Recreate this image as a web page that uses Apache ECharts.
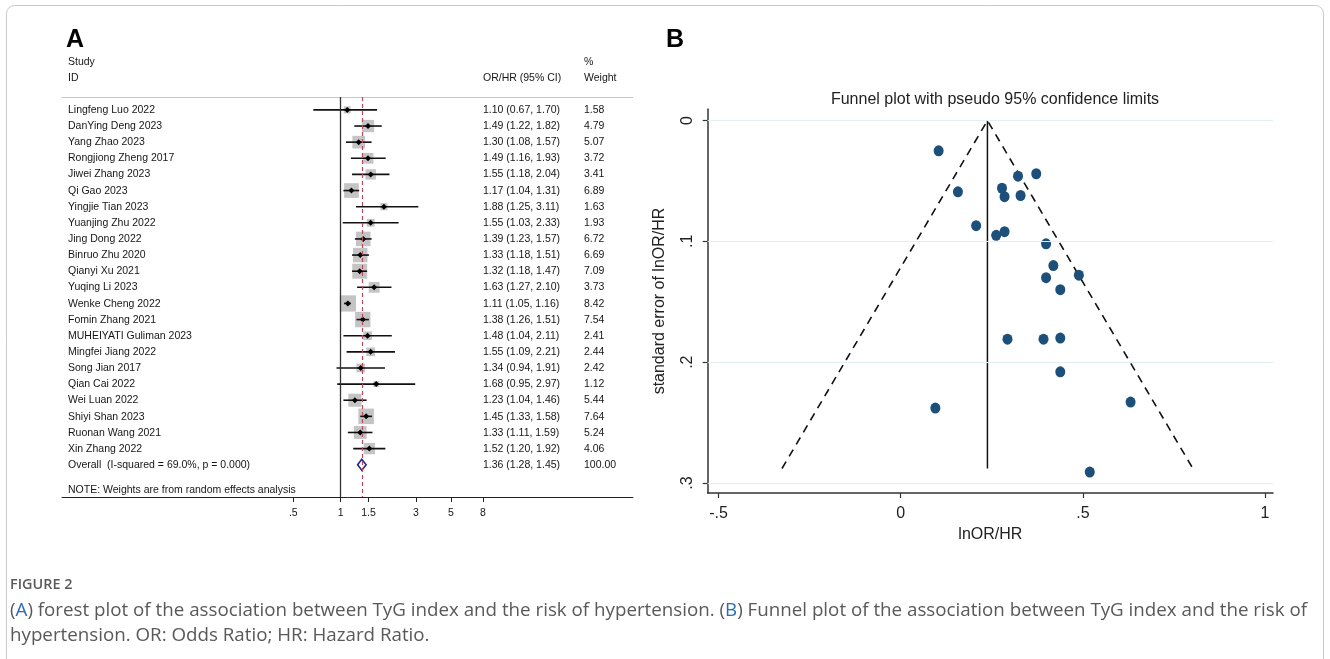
<!DOCTYPE html>
<html>
<head>
<meta charset="utf-8">
<script src="https://cdn.jsdelivr.net/npm/echarts@6/dist/echarts.min.js"></script>
<style>
  html, body { margin: 0; padding: 0; background: #fff; }
  #main { width: 1330px; height: 659px; }
</style>
</head>
<body>
<div id="main"></div>
<script>
// forest plot (A)
var studies = ['Lingfeng Luo 2022', 'DanYing Deng 2023', 'Yang Zhao 2023', 'Rongjiong Zheng 2017',
  'Jiwei Zhang 2023', 'Qi Gao 2023', 'Yingjie Tian 2023', 'Yuanjing Zhu 2022', 'Jing Dong 2022',
  'Binruo Zhu 2020', 'Qianyi Xu 2021', 'Yuqing Li 2023', 'Wenke Cheng 2022', 'Fomin Zhang 2021',
  'MUHEIYATI Guliman 2023', 'Mingfei Jiang 2022', 'Song Jian 2017', 'Qian Cai 2022', 'Wei Luan 2022',
  'Shiyi Shan 2023', 'Ruonan Wang 2021', 'Xin Zhang 2022'];
var orVals = [1.10, 1.49, 1.30, 1.49, 1.55, 1.17, 1.88, 1.55, 1.39, 1.33, 1.32, 1.63, 1.11, 1.38, 1.48, 1.55, 1.34, 1.68, 1.23, 1.45, 1.33, 1.52];
var lowVals = [0.67, 1.22, 1.08, 1.16, 1.18, 1.04, 1.25, 1.03, 1.23, 1.18, 1.18, 1.27, 1.05, 1.26, 1.04, 1.09, 0.94, 0.95, 1.04, 1.33, 1.11, 1.20];
var highVals = [1.70, 1.82, 1.57, 1.93, 2.04, 1.31, 3.11, 2.33, 1.57, 1.51, 1.47, 2.10, 1.16, 1.51, 2.11, 2.21, 1.91, 2.97, 1.46, 1.58, 1.59, 1.92];
var weights = [1.58, 4.79, 5.07, 3.72, 3.41, 6.89, 1.63, 1.93, 6.72, 6.69, 7.09, 3.73, 8.42, 7.54, 2.41, 2.44, 2.42, 1.12, 5.44, 7.64, 5.24, 4.06];
var overallLabel = 'Overall  (I-squared = 69.0%, p = 0.000)';
var overallOr = 1.36, overallLow = 1.28, overallHigh = 1.45, overallWeight = 100.00;
var forestTicks = [0.5, 1, 1.5, 3, 5, 8];
var forestTickLabels = ['.5', '1', '1.5', '3', '5', '8'];

// funnel plot (B)
var lnEst = [0.095, 0.399, 0.262, 0.399, 0.438, 0.157, 0.631, 0.438, 0.329, 0.285, 0.278, 0.489, 0.104, 0.322, 0.392, 0.438, 0.293, 0.519, 0.207, 0.372, 0.285, 0.419];
var seVals = [0.238, 0.102, 0.095, 0.130, 0.140, 0.059, 0.233, 0.208, 0.062, 0.063, 0.056, 0.128, 0.025, 0.046, 0.181, 0.180, 0.181, 0.291, 0.087, 0.044, 0.092, 0.120];
var funnelCenter = 0.238, funnelSeMax = 0.288, funnelLow = -0.326, funnelHigh = 0.802;
var funnelXTicks = [-0.5, 0, 0.5, 1];
var funnelXLabels = ['-.5', '0', '.5', '1'];
var funnelYTicks = [0, 0.1, 0.2, 0.3];
var funnelYLabels = ['0', '.1', '.2', '.3'];

var FONT = '"Liberation Sans", Arial, sans-serif';
var CAP_FONT = '"Open Sans", sans-serif';
var TXT = '#151515';

var rowNames = studies.concat([overallLabel]);
var ciText = orVals.map(function (v, i) {
  return v.toFixed(2) + ' (' + lowVals[i].toFixed(2) + ', ' + highVals[i].toFixed(2) + ')';
}).concat([overallOr.toFixed(2) + ' (' + overallLow.toFixed(2) + ', ' + overallHigh.toFixed(2) + ')']);
var weightText = weights.map(function (w) { return w.toFixed(2); }).concat([overallWeight.toFixed(2)]);

// x of the forest plot is on the log scale
var forestData = orVals.map(function (v, i) {
  return [Math.log(v), Math.log(lowVals[i]), Math.log(highVals[i]), weights[i], i, 0];
});
forestData.push([Math.log(overallOr), Math.log(overallLow), Math.log(overallHigh), overallWeight, studies.length, 1]);

function pick(vals, labels, v, useLog) {
  for (var i = 0; i < vals.length; i++) {
    var t = useLog ? Math.log(vals[i]) : vals[i];
    if (Math.abs(t - v) < 1e-6) return labels[i];
  }
  return '';
}

function renderForest(params, api) {
  var row = api.value(4);
  var c = api.coord([api.value(0), row]);
  var l = api.coord([api.value(1), row]);
  var h = api.coord([api.value(2), row]);
  if (api.value(5) === 1) {
    return {
      type: 'polygon',
      shape: { points: [[l[0], c[1]], [c[0], c[1] - 5.5], [h[0], c[1]], [c[0], c[1] + 5.5]] },
      style: { fill: '#fff', stroke: '#1d2a86', lineWidth: 1.6 }
    };
  }
  var s = 5.6 * Math.sqrt(api.value(3));
  return {
    type: 'group',
    children: [
      { type: 'rect', shape: { x: c[0] - s / 2, y: c[1] - s / 2, width: s, height: s }, style: { fill: '#c4c4c4' } },
      { type: 'line', shape: { x1: l[0], y1: c[1], x2: h[0], y2: c[1] }, style: { stroke: '#111', lineWidth: 1.6 } },
      { type: 'polygon', shape: { points: [[c[0] - 3, c[1]], [c[0], c[1] - 3], [c[0] + 3, c[1]], [c[0], c[1] + 3]] }, style: { fill: '#000' } }
    ]
  };
}

var chart = echarts.init(document.getElementById('main'));
var option = {
  backgroundColor: '#fff',
  animation: false,
  textStyle: { fontFamily: FONT },
  title: {
    text: 'Funnel plot with pseudo 95% confidence limits',
    left: 990, top: 87, textAlign: 'center',
    textStyle: { fontFamily: FONT, fontSize: 16, fontWeight: 'normal', color: '#222' }
  },
  grid: [
    { left: 62, right: 697, top: 97, bottom: 162 },
    { left: 62, right: 697, top: 101.9, bottom: 185.9 },
    { left: 707.7, right: 57, top: 109, bottom: 166 }
  ],
  xAxis: [
    {
      gridIndex: 0, type: 'value', min: -4.075, max: 4.273, position: 'bottom',
      axisLine: { onZero: false, lineStyle: { color: '#222', width: 1 } },
      axisTick: { inside: false, length: 5, lineStyle: { color: '#222' }, customValues: forestTicks.map(Math.log) },
      axisLabel: {
        customValues: forestTicks.map(Math.log), margin: 11, fontSize: 10.5, color: TXT,
        formatter: function (v) { return pick(forestTicks, forestTickLabels, v, true); }
      },
      splitLine: { show: false }
    },
    {
      gridIndex: 0, type: 'value', min: -4.075, max: 4.273, position: 'top',
      axisLine: { onZero: false, lineStyle: { color: '#c8c8c8', width: 1 } },
      axisTick: { show: false }, axisLabel: { show: false }, splitLine: { show: false }
    },
    { gridIndex: 1, type: 'value', show: false },
    {
      gridIndex: 2, type: 'value', min: -0.53, max: 1.022, position: 'bottom',
      axisLine: { onZero: false, lineStyle: { color: '#333', width: 1.5 } },
      axisTick: { inside: false, length: 5, lineStyle: { color: '#333', width: 1.2 }, customValues: funnelXTicks },
      axisLabel: {
        customValues: funnelXTicks, margin: 13, fontSize: 16, color: '#222',
        formatter: function (v) { return pick(funnelXTicks, funnelXLabels, v, false); }
      },
      splitLine: { show: false },
      name: 'lnOR/HR', nameLocation: 'middle', nameGap: 31,
      nameTextStyle: { fontSize: 16, color: '#222', fontFamily: FONT }
    }
  ],
  yAxis: [
    { gridIndex: 0, type: 'value', inverse: true, min: -0.8, max: 24, show: false },
    {
      gridIndex: 1, type: 'category', inverse: true, data: rowNames, position: 'left',
      axisLine: { show: false }, axisTick: { show: false },
      axisLabel: { inside: true, margin: 6, fontSize: 10.5, color: TXT }
    },
    {
      gridIndex: 1, type: 'category', inverse: true, data: ciText, position: 'right', offset: -150,
      axisLine: { show: false }, axisTick: { show: false },
      axisLabel: { margin: 0, fontSize: 10.5, color: TXT }
    },
    {
      gridIndex: 1, type: 'category', inverse: true, data: weightText, position: 'right', offset: -49,
      axisLine: { show: false }, axisTick: { show: false },
      axisLabel: { margin: 0, fontSize: 10.5, color: TXT }
    },
    {
      gridIndex: 2, type: 'value', inverse: true, min: -0.0096, max: 0.3083, position: 'left',
      axisLine: { onZero: false, lineStyle: { color: '#333', width: 1.5 } },
      axisTick: { inside: false, length: 5, lineStyle: { color: '#333', width: 1.2 }, customValues: funnelYTicks },
      axisLabel: {
        customValues: funnelYTicks, margin: 12, fontSize: 16, color: '#222', rotate: 90,
        formatter: function (v) { return pick(funnelYTicks, funnelYLabels, v, false); }
      },
      splitLine: { show: false },
      name: 'standard error of lnOR/HR', nameLocation: 'middle', nameGap: 40, nameRotate: 90,
      nameTextStyle: { fontSize: 16, color: '#222', fontFamily: FONT }
    }
  ],
  series: [
    {
      type: 'custom', xAxisIndex: 0, yAxisIndex: 0, renderItem: renderForest, data: forestData, z: 3
    },
    {
      type: 'line', xAxisIndex: 0, yAxisIndex: 0, data: [], silent: true,
      markLine: {
        symbol: 'none', silent: true, label: { show: false },
        data: [
          { xAxis: 0, lineStyle: { color: '#333', width: 1.3, type: 'solid' } },
          { xAxis: Math.log(overallOr), lineStyle: { color: '#bd4a5c', width: 1.2, type: [4, 3] } }
        ]
      }
    },
    {
      type: 'line', xAxisIndex: 3, yAxisIndex: 4, data: [], silent: true,
      markLine: {
        symbol: 'none', silent: true, label: { show: false },
        lineStyle: { color: '#e2eef0', width: 1.2, type: 'solid' },
        data: funnelYTicks.map(function (t) { return { yAxis: t }; })
      }
    },
    {
      type: 'line', xAxisIndex: 3, yAxisIndex: 4, showSymbol: false, silent: true,
      lineStyle: { color: '#111', width: 1.6, type: [8, 6] },
      data: [[funnelLow, funnelSeMax], [funnelCenter, 0], [funnelHigh, funnelSeMax]]
    },
    {
      type: 'line', xAxisIndex: 3, yAxisIndex: 4, showSymbol: false, silent: true,
      lineStyle: { color: '#111', width: 1.5 },
      data: [[funnelCenter, 0], [funnelCenter, funnelSeMax]]
    },
    {
      type: 'scatter', xAxisIndex: 3, yAxisIndex: 4, symbolSize: [10, 11], z: 4,
      itemStyle: { color: '#1c4f7a', opacity: 1 },
      data: lnEst.map(function (v, i) { return [v, seVals[i]]; })
    }
  ],
  graphic: [
    { type: 'rect', shape: { x: 6.5, y: 5.5, width: 1317, height: 700, r: 8 }, style: { fill: 'none', stroke: '#c9c9c9', lineWidth: 1 }, silent: true },
    { type: 'text', left: 66, top: 28, style: { text: 'A', font: 'bold 25px ' + FONT, fill: '#000' } },
    { type: 'text', left: 666, top: 28, style: { text: 'B', font: 'bold 25px ' + FONT, fill: '#000' } },
    { type: 'text', x: 68, y: 62, style: { text: 'Study', font: '10.5px ' + FONT, fill: TXT, verticalAlign: 'middle' } },
    { type: 'text', x: 68, y: 78, style: { text: 'ID', font: '10.5px ' + FONT, fill: TXT, verticalAlign: 'middle' } },
    { type: 'text', x: 483, y: 78, style: { text: 'OR/HR (95% CI)', font: '10.5px ' + FONT, fill: TXT, verticalAlign: 'middle' } },
    { type: 'text', x: 584, y: 62, style: { text: '%', font: '10.5px ' + FONT, fill: TXT, verticalAlign: 'middle' } },
    { type: 'text', x: 584, y: 78, style: { text: 'Weight', font: '10.5px ' + FONT, fill: TXT, verticalAlign: 'middle' } },
    { type: 'text', x: 68, y: 490, style: { text: 'NOTE: Weights are from random effects analysis', font: '10.5px ' + FONT, fill: TXT, verticalAlign: 'middle' } },
    { type: 'text', x: 10, y: 585, style: { text: 'FIGURE 2', font: '600 14.4px ' + CAP_FONT, fill: '#595959', verticalAlign: 'middle' } },
    {
      type: 'text', x: 10, y: 611,
      style: {
        text: '({b|A}) forest plot of the association between TyG index and the risk of hypertension. ({b|B}) Funnel plot of the association between TyG index and the risk of',
        font: '18.75px ' + CAP_FONT, fill: '#595959', verticalAlign: 'middle',
        rich: { b: { fill: '#2a6db5', font: '18.75px ' + CAP_FONT } }
      }
    },
    {
      type: 'text', x: 10, y: 636,
      style: { text: 'hypertension. OR: Odds Ratio; HR: Hazard Ratio.', font: '18.75px ' + CAP_FONT, fill: '#595959', verticalAlign: 'middle' }
    }
  ]
};
chart.setOption(option);
</script>
</body>
</html>
